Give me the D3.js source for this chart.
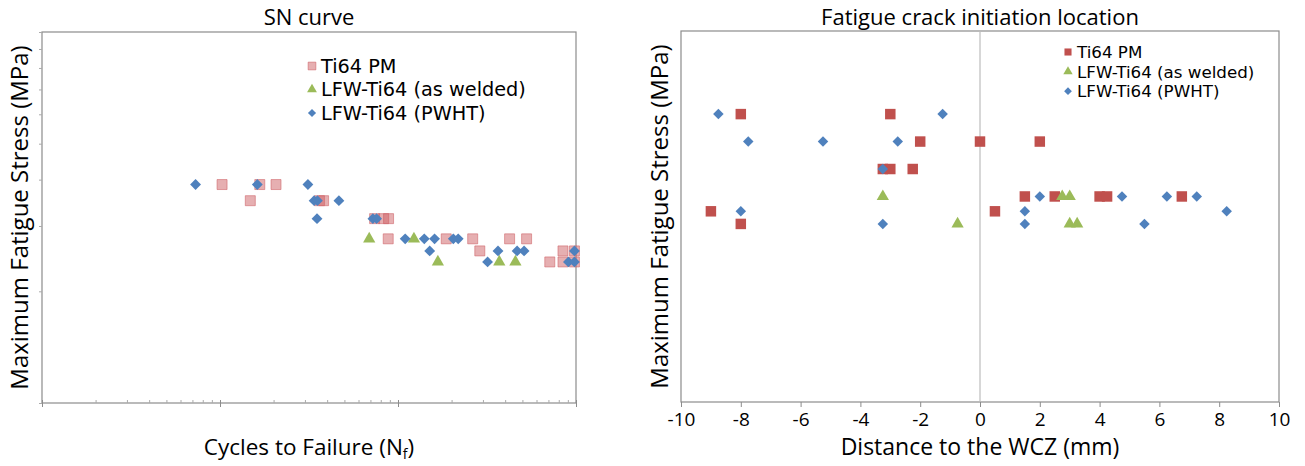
<!DOCTYPE html>
<html><head><meta charset="utf-8">
<script src="https://cdn.jsdelivr.net/npm/d3@7"></script>
<style>
body{margin:0;background:#fff}
svg{display:block}
text{font-family:'Open Sans',sans-serif;fill:#000}
text.leg{font-family:'DejaVu Sans',sans-serif}
</style></head>
<body><svg id="c" width="1305" height="466"></svg>
<script>
// ---------- data ----------
const seriesNames = ["Ti64 PM", "LFW-Ti64 (as welded)", "LFW-Ti64 (PWHT)"];

// SN curve (cycles to failure, max stress MPa)
const snPMCycles   = [102700,167300,206400,148000,362000,382000,739000,831000,885000,881000,1866000,2628000,4236000,5278000,2881000,8450000,9800000,7125000,8450000,9800000];
const snPMStress   = [388,388,388,351,351,351,314,314,314,277,277,277,277,277,257,257,257,240,240,240];
const snAWCycles   = [689000,1229000,1675000,3707000,4566000];
const snAWStress   = [277,277,240,240,240];
const snPWCycles   = [72900,162000,311800,337900,352600,465600,350800,722800,758200,1097500,1405000,1605000,2045000,2179000,1507000,3646000,4668000,5109000,9800000,3186000,9065000,9800000];
const snPWStress   = [388,388,388,351,351,351,314,314,314,277,277,277,277,277,257,257,257,257,257,240,240,240];

// crack initiation location (distance to WCZ mm, max stress MPa)
const locPMDist    = [-8,-3,-2,0,2,-3.25,-3,-2.25,1.5,2.5,4,4.25,6.75,-9,0.5,-8];
const locPMStress  = [388,388,351,351,351,314,314,314,277,277,277,277,277,257,257,240];
const locAWDist    = [-3.25,2.75,3,-0.75,3,3.25];
const locAWStress  = [277,277,277,240,240,240];
const locPWDist    = [-8.75,-1.25,-7.75,-5.25,-2.75,-3.25,2,4.75,6.25,7.25,-8,1.5,8.25,-3.25,1.5,5.5];
const locPWStress  = [388,388,351,351,351,314,277,277,277,277,257,257,257,240,240,240];

const distTicks = [-10,-8,-6,-4,-2,0,2,4,6,8,10];

// ---------- drawing ----------
const svg = d3.select("#c");
const axisCol = "#8c8c8c";
const zip = (a,b) => a.map((v,i)=>[v,b[i]]);

const sym = {
  sq: d3.symbol().type(d3.symbolSquare),
  tri: d3.symbol().type(d3.symbolTriangle),
  dia: d3.symbol().type(d3.symbolDiamond2)
};

function drawMarks(g, data, x, y, kind, size, style){
  g.selectAll(null).data(data).enter().append("path")
    .attr("d", sym[kind].size(size)())
    .attr("transform", d => `translate(${x(d[0])},${y(d[1])})`)
    .attr("fill", style.fill)
    .attr("stroke", style.stroke || "none")
    .attr("stroke-width", style.sw || 0);
}

function legend(g, x0, y0, dy, fs, styles, sizes){
  const kinds = ["sq","tri","dia"];
  seriesNames.forEach((n,i)=>{
    g.append("path").attr("d", sym[kinds[i]].size(sizes[i])())
      .attr("transform",`translate(${x0},${y0+i*dy})`)
      .attr("fill", styles[i].fill).attr("stroke", styles[i].stroke||"none").attr("stroke-width", styles[i].sw||0);
    g.append("text").attr("class","leg").attr("x", x0+9).attr("y", y0+i*dy).attr("dy","0.36em")
      .attr("font-size", fs).text(n);
  });
}

// ----- Left: SN curve -----
{
  const L = 42, R = 576, T = 32, B = 403;
  const x = d3.scaleLog().domain([1e4,1e7]).range([L,R]);
  const y = d3.scaleLog().domain([100,1000]).range([B,T]);
  const g = svg.append("g");
  g.append("rect").attr("x",L).attr("y",T).attr("width",R-L).attr("height",B-T)
    .attr("fill","none").attr("stroke",axisCol).attr("stroke-width",1.2);
  const minorX = [];
  [1e4,1e5,1e6].forEach(d=>{for(let k=2;k<=9;k++) minorX.push(d*k);});
  g.append("g").attr("transform",`translate(0,${B})`)
    .call(d3.axisBottom(x).tickValues(minorX).tickSize(-3).tickFormat(""))
    .call(s=>{s.select(".domain").remove(); s.selectAll("line").attr("stroke","#aaa");});
  g.append("g").attr("transform",`translate(0,${B})`)
    .call(d3.axisBottom(x).tickValues([1e4,1e5,1e6,1e7]).tickSize(4).tickFormat(""))
    .call(s=>{s.select(".domain").remove(); s.selectAll("line").attr("stroke",axisCol).attr("y1",-3);});
  const minorY = d3.range(2,10).map(k=>k*100);
  g.append("g").attr("transform",`translate(${L},0)`)
    .call(d3.axisLeft(y).tickValues([100,...minorY,1000]).tickSize(3).tickFormat(""))
    .call(s=>{s.select(".domain").remove(); s.selectAll("line").attr("stroke","#aaa");});

  const pmS = {fill:"rgba(205,95,100,0.5)", stroke:"rgba(205,95,100,0.55)", sw:1};
  const awS = {fill:"#9bbb59"};
  const pwS = {fill:"#4f81bd"};
  drawMarks(g, zip(snPMCycles,snPMStress), x, y, "sq", 100, pmS);
  drawMarks(g, zip(snAWCycles,snAWStress), x, y, "tri", 65, awS);
  drawMarks(g, zip(snPWCycles,snPWStress), x, y, "dia", 75, pwS);

  legend(g, 312, 66, 23.5, 19.3, [pmS,awS,pwS], [60,42,42]);

  g.append("text").attr("x",(L+R)/2).attr("y",17).attr("dy","0.36em")
    .attr("text-anchor","middle").attr("font-size",22).text("SN curve");
  const xl = g.append("text").attr("x",(L+R)/2).attr("y",447).attr("dy","0.36em")
    .attr("text-anchor","middle").attr("font-size",22.5);
  xl.append("tspan").text("Cycles to Failure (N");
  xl.append("tspan").attr("font-size",14).attr("dy","0.3em").text("f");
  xl.append("tspan").attr("dy","-0.2em").text(")");
  g.append("text").attr("transform",`translate(19,${(T+B)/2}) rotate(-90)`).attr("dy","0.36em")
    .attr("text-anchor","middle").attr("font-size",24).text("Maximum Fatigue Stress (MPa)");
}

// ----- Right: crack initiation location -----
{
  const L = 681, R = 1279, T = 31, B = 402;
  const x = d3.scaleLinear().domain([-10,10]).range([L,R]);
  const y = d3.scaleLinear().domain([0,500]).range([B,T]);
  const g = svg.append("g");
  g.append("rect").attr("x",L).attr("y",T).attr("width",R-L).attr("height",B-T)
    .attr("fill","none").attr("stroke",axisCol).attr("stroke-width",1.2);
  g.append("line").attr("x1",x(0)).attr("x2",x(0)).attr("y1",T).attr("y2",B)
    .attr("stroke","#bdbdbd").attr("stroke-width",1.2);
  g.append("g").attr("transform",`translate(0,${B})`)
    .call(d3.axisBottom(x).tickValues(distTicks).tickSize(5).tickPadding(6).tickFormat(d => String(d)))
    .call(s=>{s.select(".domain").remove(); s.selectAll("line").attr("stroke",axisCol);
      s.selectAll("text").attr("font-size",19).attr("font-family","'Open Sans',sans-serif").attr("fill","#000");});

  const pmS = {fill:"#c0504d"};
  const awS = {fill:"#9bbb59"};
  const pwS = {fill:"#4f81bd"};
  drawMarks(g, zip(locPMDist,locPMStress), x, y, "sq", 110, pmS);
  drawMarks(g, zip(locAWDist,locAWStress), x, y, "tri", 65, awS);
  drawMarks(g, zip(locPWDist,locPWStress), x, y, "dia", 70, pwS);

  legend(g, 1068, 52, 19.6, 16.7, [pmS,awS,pwS], [50,38,38]);

  g.append("text").attr("x",(L+R)/2).attr("y",17).attr("dy","0.36em")
    .attr("text-anchor","middle").attr("font-size",22).text("Fatigue crack initiation location");
  g.append("text").attr("x",(L+R)/2).attr("y",447).attr("dy","0.36em")
    .attr("text-anchor","middle").attr("font-size",23).text("Distance to the WCZ (mm)");
  g.append("text").attr("transform",`translate(659,${(T+B)/2}) rotate(-90)`).attr("dy","0.36em")
    .attr("text-anchor","middle").attr("font-size",24).text("Maximum Fatigue Stress (MPa)");
}
</script></body></html>
